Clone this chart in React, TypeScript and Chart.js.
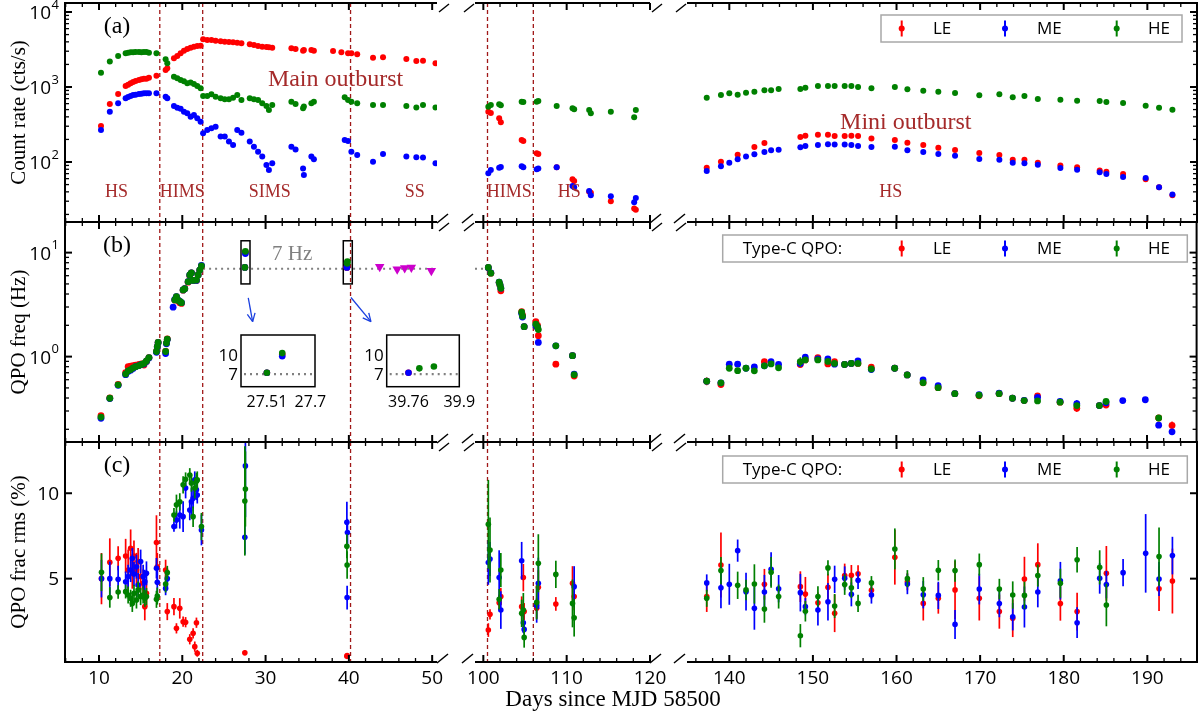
import React, { useEffect, useRef } from "react";
import { Chart, registerables } from "chart.js";

Chart.register(...registerables);

const FIG_W = 1200;
const FIG_H = 714;

const SERIF = '"Liberation Serif", "Times New Roman", serif';
const SANS = '"Open Sans", "Noto Sans", sans-serif';

const COLOR_LE = "#ff0000";
const COLOR_ME = "#0000ff";
const COLOR_HE = "#008000";
const STATE_RED = "#a52a2a";
const DASH_RED = "#a01818";
const LIMIT_MAGENTA = "#cc00cc";

// ---------------- Count rates, main outburst (cts/s) ----------------
const rateMainDays = [
  10.24, 11.3, 12.3, 13.2, 13.5, 13.8, 14.1, 14.4, 14.8, 15.1, 15.4, 15.7, 16.0, 16.9, 18.0, 18.2,
  19.0, 19.4, 19.8, 20.2, 20.6, 21.0, 21.4, 21.8, 22.2, 22.5, 23.0, 23.5, 24.0, 24.6, 25.1, 25.6,
  26.1, 26.6, 27.1, 28.1, 28.6, 29.1, 29.6, 30.1, 30.4, 30.8, 33.1, 33.6, 34.5, 34.6, 35.5, 35.8,
  38.1, 39.1, 39.5, 39.9, 40.3, 41.0, 42.9, 44.1, 46.9, 48.1, 48.9, 50.4,
  100.6, 100.9, 101.9, 102.1, 104.6, 104.8, 106.4, 106.6, 108.8, 110.7, 110.9, 112.7, 112.9, 115.3, 118.1, 118.3,
];
const rateMainLE = [
  302, 593, 807, 1031, 1074, 1119, 1166, 1202, 1240, 1265, 1291, 1291, 1332, 1416, 1686, 1774,
  2410, 2590, 2812, 3050, 3213, 3342, 3450, 3524, 3556, 4322, 4235, 4235, 4150, 4064, 4020, 3981,
  3945, 3900, 3820, 3706, 3630, 3524, 3450, 3415, 3380, 3342, 3280, 3213, 3050, 3113, 3113, 3050,
  3020, 2897, null, 2812, 2812, 2728, 2462, 2488, 2362, 2222, 2233, 2068,
  469, 450, 382, 338, 196, 190, 131, 128, 85, 59, 56, 40, 39, 30, 24, 23,
];
const rateMainME = [
  267, 469, 606, 706, 736, 759, 782, 791, 807, 815, 824, 824, 824, 824, 743, 706,
  558, 530, 514, 469, 446, 402, 424, 382, 345, 241, 267, 281, 296, 218, 218, 187,
  169, 267, 246, 187, 160, 137, 118, 91, 78, 96, 160, 147, 82, 67, 118, 109,
  null, null, 196, 191, 137, 124, 101, 128, 118, 116, 115, 96,
  71, 78, 84, 86, 88, 85, 80, 82, 85, 48, 46, 41, 36, 35, 29, 33,
];
const rateMainHE = [
  1553, 2180, 2590, 2812, 2870, 2897, 2897, 2930, 2930, 2897, 2930, 2930, 2870, 2812, 2338, 2068,
  1373, 1305, 1240, 1190, 1119, 1150, 1096, 1031, 960, 759, 759, 799, 743, 706, 685, 685,
  721, 782, 671, 706, 685, 671, 606, 558, 494, 575, 637, 593, 520, 548, 606, 637,
  null, null, 728, 671, 637, 606, 575, 575, 558, 535, 575, 535,
  546, 575, 588, 570, 637, 630, 637, 650, 558, 520, 505, 494, 446, 469, 394, 494,
];

// ---------------- Mini outburst observations (shared epochs) ----------------
const miniDays = [
  137.3, 139.0, 140.0, 141.0, 142.0, 143.0, 144.2, 145.0, 145.9, 148.5, 149.1, 150.6,
  151.8, 152.6, 153.8, 154.6, 155.4, 157.0, 159.8, 161.3, 163.2, 165.0, 167.0, 169.9,
  172.3, 173.9, 175.3, 176.9, 179.6, 181.6, 184.3, 185.1, 187.1, 189.8, 191.4, 193.0,
];
const rateMiniLE = [
  84, 101, null, 125, null, 158, 179, null, null, 215, 224, 231,
  231, 222, 222, 224, 222, 205, 197, 181, 169, 155, 145, 132,
  124, 107, 107, 98, 90, 85, 77, 74, 69, 59, 46, 36,
];
const rateMiniME = [
  76, 88, 98, 109, 118, 127, 136, 143, 146, 157, 163, 169,
  172, 171, 171, 169, 163, 158, 160, 143, 136, 128, 121, 110,
  107, 98, 96, 92, 83, 79, 73, 69, 63, 61, 46, 37,
];
const rateMiniHE = [
  720, 782, 824, 790, 839, 866, 904, 904, 940, 940, 980, 1031,
  1031, 1031, 1031, 1031, 1000, 960, 1000, 931, 893, 866, 832, 775,
  798, 728, 759, 692, 678, 658, 651, 631, 612, 564, 530, 499,
];

// ---------------- Type-C QPO frequency, main outburst (Hz) ----------------
const freqMainDays = [
  10.24, 11.3, 12.3, 13.2, 13.5, 13.8, 14.1, 14.4, 14.8, 15.1, 15.4, 15.7, 16.0, 16.9, 17.0, 17.1,
  18.0, 18.1, 18.2, 18.9, 19.1, 19.3, 19.5, 19.7, 19.9, 20.1, 20.3, 20.7, 20.9, 21.1, 21.3, 21.7,
  21.9, 22.1, 22.3, 27.51, 27.577, 39.76, 39.79, 39.83,
  100.6, 100.9, 101.9, 102.0, 102.1, 104.6, 104.7, 104.9, 106.3, 106.5, 106.6, 108.7, 110.7, 110.9,
];
const freqMainLE = [
  0.27, 0.40, 0.54, 0.70, 0.80, 0.81, 0.82, 0.83, 0.84, 0.85, 0.83, 0.90, 0.98, 1.12, 1.25, 1.37,
  1.12, 1.35, 1.48, null, 3.5, 3.75, 3.45, 3.3, 3.25, 4.35, 4.5, 5.2, 6.0, 6.4, 5.4, 5.4,
  6.1, 6.8, 7.4, 7.2, 10.1, 7.2, null, null,
  7.17, 6.34, 5.15, 4.85, 4.3, 2.7, 2.5, 1.94, 2.17, 2.0, 1.59, 0.846, 1.02, 0.65,
];
const freqMainME = [
  0.255, 0.395, 0.53, 0.67, 0.72, 0.74, 0.77, 0.80, 0.82, 0.84, 0.85, 0.90, 0.97, 1.10, 1.24, 1.36,
  1.07, 1.33, 1.46, 2.99, 3.55, 3.78, 3.5, 3.4, 3.3, 4.38, 4.5, 5.26, 6.1, 6.4, 5.4, 5.4,
  6.1, 6.8, 7.55, 7.2, 9.8, 7.2, null, null,
  7.17, 6.4, 5.19, 4.9, 4.55, 2.6, 2.4, 1.94, 1.98, 1.9, 1.37, 1.27, 1.02, 0.68,
];
const freqMainHE = [
  0.262, 0.398, 0.535, 0.68, 0.73, 0.75, 0.78, 0.80, 0.82, 0.84, 0.86, 0.91, 0.98, 1.12, 1.25, 1.37,
  1.12, 1.35, 1.47, null, 3.51, 3.78, 3.48, 3.4, 3.3, 4.38, 4.5, 5.26, 6.1, 6.4, 5.4, 5.45,
  6.1, 6.8, 7.45, 7.2, 10.3, null, 7.9, 8.2,
  7.2, 6.34, 5.2, 4.9, 4.55, 2.67, 2.45, 1.94, 2.05, 1.93, 1.82, 1.27, 1.02, 0.67,
];

// Candidate ~7 Hz features in the soft state (downward triangles)
const limitDays = [43.7, 45.8, 46.7, 47.5, 49.9];
const limitFreq = [7.33, 6.92, 7.1, 7.2, 6.7];

// ---------------- Type-C QPO frequency, mini outburst (Hz) ----------------
const freqMiniLE = [
  0.58, 0.54, null, null, null, null, 0.895, null, null, 0.84, 0.93, 0.98,
  0.85, 0.895, 0.84, 0.86, 0.86, 0.79, 0.773, 0.667, 0.56, 0.503, 0.44, 0.42,
  0.44, 0.398, 0.378, 0.42, 0.365, 0.319, 0.338, 0.342, null, null, 0.257, 0.218,
];
const freqMiniME = [
  0.58, 0.56, 0.845, 0.845, 0.773, 0.795, 0.815, 0.895, 0.84, 0.86, 0.987, 0.95,
  0.95, 0.845, 0.84, 0.86, 0.91, 0.75, 0.773, 0.667, 0.597, 0.526, 0.44, 0.43,
  0.445, 0.398, 0.38, 0.405, 0.37, 0.353, 0.338, 0.36, 0.378, 0.385, 0.219, 0.189,
];
const freqMiniHE = [
  0.58, 0.56, 0.773, 0.733, 0.773, 0.73, 0.815, 0.85, 0.78, 0.895, 0.93, 0.93,
  0.9, 0.86, 0.84, 0.86, 0.86, 0.76, 0.773, 0.667, 0.562, 0.503, 0.44, 0.425,
  0.44, 0.398, 0.378, 0.375, 0.365, 0.338, 0.338, 0.37, null, null, 0.257, null,
];
const freqMiniErrLE = [
  0.05, 0.04, 0, 0, 0, 0, 0.02, 0, 0, 0.03, 0.02, 0.02,
  0.02, 0.02, 0.02, 0.02, 0.02, 0.02, 0.02, 0.02, 0.02, 0.015, 0.01, 0.01,
  0.01, 0.01, 0.01, 0.015, 0.01, 0.025, 0.01, 0.015, 0, 0, 0.01, 0.02,
];
const freqMiniErrME = [
  0.03, 0.03, 0.02, 0.02, 0.02, 0.03, 0.02, 0.02, 0.02, 0.03, 0.02, 0.02,
  0.02, 0.02, 0.02, 0.02, 0.02, 0.02, 0.02, 0.02, 0.02, 0.015, 0.01, 0.01,
  0.01, 0.01, 0.01, 0.01, 0.01, 0.03, 0.01, 0.01, 0.01, 0.015, 0.01, 0.01,
];
const freqMiniErrHE = [
  0.03, 0.03, 0.02, 0.02, 0.02, 0.02, 0.02, 0.02, 0.02, 0.09, 0.03, 0.02,
  0.02, 0.02, 0.02, 0.02, 0.02, 0.02, 0.02, 0.02, 0.02, 0.015, 0.01, 0.01,
  0.01, 0.01, 0.01, 0.01, 0.01, 0.02, 0.01, 0.02, 0, 0, 0.01, 0,
];

// ---------------- QPO fractional rms, main outburst (%) ----------------
const rmsMainDays = [
  10.3, 11.3, 12.3, 13.2, 13.5, 13.8, 14.0, 14.2, 14.5, 14.7, 15.0, 15.3, 15.5, 15.7, 16.9, 17.0,
  18.0, 18.2, 19.0, 19.3, 19.7, 20.1, 20.4, 20.9, 21.1, 21.3, 21.5, 21.7, 21.8, 22.3,
  27.51, 27.577, 39.76, 39.79, 39.83,
  100.6, 100.8, 101.9, 102.1, 104.6, 104.8, 104.9, 106.4, 106.6, 108.7, 110.7, 110.9,
];
const rmsMainLE = [
  5.0, 5.96, 6.19, 6.33, 5.5, 6.78, 5.31, 6.33, 5.51, 6.0, 5.12, 4.73, 3.36, 4.14, 7.11, 5.7,
  5.51, 3.07, 3.36, 2.09, 3.26, 2.48, 2.45, 1.45, null, 1.8, 1.02, 2.42, 0.63, null,
  0.66, null, 0.45, 0.5, null,
  1.99, 2.91, 3.59, 3.95, 3.36, 5.06, 3.07, 3.26, 4.49, 3.52, 4.73, 3.95,
];
const rmsMainErrLE = [
  1.5, 1.4, 0.7, 1.0, 1.2, 1.1, 0.9, 0.9, 1.0, 0.8, 0.8, 0.8, 0.8, 0.8, 1.6, 0.8,
  0.6, 0.5, 0.5, 0.3, 0.6, 0.3, 0.3, 0.3, 0, 0.3, 0.3, 0.3, 0.2, 0,
  0.15, 0, 0.1, 0.1, 0,
  0.4, 0.3, 0.4, 0.5, 0.6, 0.8, 0.5, 0.6, 1.0, 0.4, 1.0, 0.8,
];
const rmsMainME = [
  5.0, 5.0, 4.96, 4.82, 5.12, 5.5, 6.19, 5.27, 5.7, 4.63, 6.0, 5.12, 4.82, 5.31, 5.61, 4.79,
  4.43, 5.0, 8.05, 8.44, 8.73, 8.63, 10.3, 9.02, 9.5, 9.7, 10.78, 10.2, 9.9, 7.85,
  7.42, 11.6, 8.3, 3.89, 7.7,
  5.94, 6.15, 5.06, 3.16, 6.05, 2.42, 2.03, 3.42, 4.73, null, null, 4.53,
];
const rmsMainErrME = [
  1.1, 1.0, 0.8, 0.6, 0.7, 0.7, 0.6, 0.7, 0.7, 0.7, 0.7, 0.7, 0.7, 0.7, 0.6, 0.7,
  0.4, 0.5, 0.3, 0.5, 0.8, 0.9, 0.6, 0.6, 0.8, 0.6, 0.5, 0.6, 0.5, 0.9,
  1.0, 3.0, 1.2, 0.7, 0.8,
  1.3, 1.0, 1.6, 1.1, 1.1, 0.6, 0.4, 1.0, 1.5, 0, 0, 1.2,
];
const rmsMainHE = [
  5.37, 3.9, 4.22, 4.24, 4.04, 3.85, 3.55, 4.14, 3.75, 4.34, 3.95, 4.04, 3.85, 3.95, 3.79, 3.98,
  4.69, 5.35, 8.73, 9.32, 9.5, 10.49, 10.82, 11.07, 10.59, 8.63, 10.3, 10.7, 10.78, 8.05,
  9.55, 10.25, 6.9, 5.8, null,
  8.18, 6.68, 3.79, 5.5, 2.97, 3.16, 1.56, 3.61, 5.9, 5.25, 3.55, 2.71,
];
const rmsMainErrHE = [
  1.1, 0.6, 0.4, 0.4, 0.5, 0.5, 0.5, 0.5, 0.5, 0.5, 0.5, 0.5, 0.5, 0.5, 0.5, 0.5,
  0.5, 0.4, 0.4, 0.6, 0.5, 0.5, 0.4, 0.4, 0.5, 0.6, 0.6, 0.5, 0.5, 0.8,
  3.2, 2.2, 0.7, 0.8, 0,
  2.6, 1.9, 0.6, 1.0, 0.8, 1.0, 0.6, 1.0, 1.7, 0.8, 1.4, 1.1,
];

// ---------------- QPO fractional rms, mini outburst (%) ----------------
const rmsMiniLE = [
  3.95, 5.8, null, null, null, null, 4.67, null, null, 4.53, 4.1, 3.59,
  4.49, 2.97, 5.18, 5.2, 5.29, 4.32, 6.25, 4.82, 3.55, 3.85, 4.34, 3.85,
  3.07, 2.68, 4.98, 5.82, 3.54, 3.07, null, 5.31, null, null, 4.41, 4.86,
];
const rmsMiniErrLE = [
  0.9, 1.9, 0, 0, 0, 0, 0.9, 0, 0, 0.9, 1.0, 0.6,
  0.8, 1.1, 0.7, 0.6, 0.5, 0.5, 1.6, 0.5, 1.0, 0.9, 1.7, 1.3,
  1.0, 1.1, 1.3, 1.25, 1.0, 1.1, 0, 1.6, 0, 0, 1.3, 1.9,
];
const rmsMiniME = [
  4.75, 4.47, 4.67, 6.64, 4.24, 3.26, 4.22, 5.55, 4.41, 4.18, 3.36, 3.16,
  3.65, 4.96, 5.02, 4.08, 4.9, 4.04, null, 4.69, 4.06, 4.02, 2.32, 4.39,
  3.54, 2.77, 3.34, 4.22, 4.88, 2.42, 5.02, 4.65, 5.35, 6.48, 4.98, 6.35,
];
const rmsMiniErrME = [
  0.5, 1.2, 1.2, 0.65, 1.1, 1.25, 1.0, 1.0, 0.8, 1.1, 0.5, 0.9,
  1.1, 0.8, 0.7, 0.7, 0.5, 0.5, 0, 0.6, 0.8, 0.8, 0.85, 0.9,
  0.8, 0.8, 1.2, 0.9, 1.1, 0.9, 0.9, 0.8, 0.8, 2.3, 1.0, 1.1,
];
const rmsMiniHE = [
  3.85, 5.47, null, 4.61, 4.34, 4.69, 3.22, 5.37, 3.95, 1.66, 3.09, 3.95,
  5.63, 3.4, 4.65, 4.47, 3.55, 4.75, 6.74, 5.0, 4.39, 5.49, 5.47, 5.82,
  4.39, 4.04, 4.02, 5.18, 4.73, 6.11, 5.66, 3.46, null, null, 6.29, null,
];
const rmsMiniErrHE = [
  0.5, 0.8, 0, 0.8, 0.6, 1.15, 0.8, 0.9, 0.7, 0.68, 0.6, 0.6,
  0.45, 0.7, 0.6, 0.6, 0.5, 0.4, 1.2, 0.5, 0.7, 0.6, 0.65, 0.65,
  0.6, 0.8, 0.8, 0.65, 0.85, 0.75, 1.0, 1.25, 0, 0, 1.7, 0,
];

// ---------------- Annotations ----------------
const transitionDays = [17.3, 22.45, 40.2, 100.5, 106.0];
const stateNames = ["HS", "HIMS", "SIMS", "SS", "HIMS", "HS", "HS"];
const stateDays = [12.1, 20.0, 30.5, 47.9, 103.1, 110.3, 159.3];
const stateLabelRate = 40;
const outburstNames = ["Main outburst", "Mini outburst"];
const outburstDays = [38.4, 161.1];
const outburstRates = [1240, 334];
const sevenHz = 7;
const sevenHzSpans = [[22.5, 50.58], [99, 100.5]];
const zoomWindows = [[27.05, 28.13], [39.33, 40.41]];
const zoomWindowFreq = [5.0, 13.0];
const zoomArrows = [[27.92, 3.67, 28.45, 2.17], [40.25, 3.7, 42.65, 2.17]];

// ---------------- Layout ----------------
const COLS = [
  { min: 5.92, max: 50.58, left: 65, right: 437, breakLeft: false, breakRight: true },
  { min: 99, max: 120, left: 475, right: 650, breakLeft: true, breakRight: true },
  { min: 134.94, max: 195.94, left: 687, right: 1197, breakLeft: true, breakRight: false },
];
const ROWS = [
  { top: 3, bottom: 222, type: "logarithmic", min: 15.85, max: 13183, title: "Count rate (cts/s)", letter: "(a)" },
  { top: 222, bottom: 442, type: "logarithmic", min: 0.151, max: 19.7, title: "QPO freq (Hz)", letter: "(b)" },
  { top: 442, bottom: 662, type: "linear", min: 0.12, max: 13.0, title: "QPO frac rms (%)", letter: "(c)" },
];
const Y_TICKS = [
  [{ v: 100, base: "10", sup: "2" }, { v: 1000, base: "10", sup: "3" }, { v: 10000, base: "10", sup: "4" }],
  [{ v: 1, base: "10", sup: "0" }, { v: 10, base: "10", sup: "1" }],
  [{ v: 5, base: "5", sup: "" }, { v: 10, base: "10", sup: "" }],
];
const LEGEND_BOXES = [
  { left: 881, top: 15, width: 301, prefix: "" },
  { left: 722.7, top: 235, width: 464.6, prefix: "Type-C QPO:" },
  { left: 722.7, top: 456, width: 464.6, prefix: "Type-C QPO:" },
];
const LEGEND_MARKER_X = [901.7, 1005, 1116.7];
const LEGEND_TEXT_X = [933, 1037, 1148];
const INSETS = [
  { xmin: 27.397, xmax: 27.72, left: 241, right: 315, top: 335, bottom: 386.7, xLabels: [27.51, 27.7] },
  { xmin: 39.7, xmax: 39.9, left: 386.7, right: 459.3, top: 335, bottom: 386.7, xLabels: [39.76, 39.9] },
];
const INSET_Y = { min: 5, max: 13.16, labels: [10, 7] };

type Pt = { x: number; y: number; e: number };

function toPoints(days: number[], vals: (number | null)[], errs?: number[]): Pt[] {
  const out: Pt[] = [];
  for (let i = 0; i < days.length; i++) {
    const v = vals[i];
    if (v === null || v === undefined) continue;
    out.push({ x: days[i], y: v, e: errs ? errs[i] || 0 : 0 });
  }
  return out;
}

const SERIES_META = [
  { label: "LE", color: COLOR_LE },
  { label: "ME", color: COLOR_ME },
  { label: "HE", color: COLOR_HE },
];

function rowPoints(r: number): Pt[][] {
  if (r === 0) {
    return [
      [...toPoints(rateMainDays, rateMainLE), ...toPoints(miniDays, rateMiniLE)],
      [...toPoints(rateMainDays, rateMainME), ...toPoints(miniDays, rateMiniME)],
      [...toPoints(rateMainDays, rateMainHE), ...toPoints(miniDays, rateMiniHE)],
    ];
  }
  if (r === 1) {
    return [
      [...toPoints(freqMainDays, freqMainLE), ...toPoints(miniDays, freqMiniLE, freqMiniErrLE)],
      [...toPoints(freqMainDays, freqMainME), ...toPoints(miniDays, freqMiniME, freqMiniErrME)],
      [...toPoints(freqMainDays, freqMainHE), ...toPoints(miniDays, freqMiniHE, freqMiniErrHE)],
    ];
  }
  return [
    [...toPoints(rmsMainDays, rmsMainLE, rmsMainErrLE), ...toPoints(miniDays, rmsMiniLE, rmsMiniErrLE)],
    [...toPoints(rmsMainDays, rmsMainME, rmsMainErrME), ...toPoints(miniDays, rmsMiniME, rmsMiniErrME)],
    [...toPoints(rmsMainDays, rmsMainHE, rmsMainErrHE), ...toPoints(miniDays, rmsMiniHE, rmsMiniErrHE)],
  ];
}

function seriesDatasets(points: Pt[][], radius: number, errWidth: number) {
  return points.map((data, i) => ({
    label: SERIES_META[i].label,
    data,
    pointRadius: radius,
    pointHoverRadius: radius,
    pointBackgroundColor: SERIES_META[i].color,
    pointBorderColor: SERIES_META[i].color,
    pointBorderWidth: 0,
    errColor: SERIES_META[i].color,
    errWidth,
    order: 3 - i,
    clip: 0,
  }));
}

function line(ctx: CanvasRenderingContext2D, x1: number, y1: number, x2: number, y2: number) {
  ctx.beginPath();
  ctx.moveTo(x1, y1);
  ctx.lineTo(x2, y2);
  ctx.stroke();
}

function xTickValues(min: number, max: number) {
  const majors: number[] = [];
  const minors: number[] = [];
  for (let v = Math.ceil(min / 2) * 2; v <= max + 1e-9; v += 2) {
    if (v % 10 === 0) majors.push(v);
    else minors.push(v);
  }
  return { majors, minors };
}

function logMinorValues(min: number, max: number) {
  const out: number[] = [];
  for (let n = Math.floor(Math.log10(min)); n <= Math.ceil(Math.log10(max)); n++) {
    for (let k = 2; k <= 9; k++) {
      const v = k * Math.pow(10, n);
      if (v > min && v < max) out.push(v);
    }
  }
  return out;
}

// Error bars, drawn under each dataset's markers
const errorBarPlugin = {
  id: "errorBars",
  beforeDatasetDraw(chart: any, args: any) {
    const ds = chart.data.datasets[args.index];
    if (!ds.errColor) return;
    const { ctx, chartArea: a } = chart;
    const xs = chart.scales.x;
    const ys = chart.scales.y;
    ctx.save();
    ctx.beginPath();
    ctx.rect(a.left, a.top, a.right - a.left, a.bottom - a.top);
    ctx.clip();
    ctx.strokeStyle = ds.errColor;
    ctx.lineWidth = ds.errWidth;
    for (const p of ds.data as Pt[]) {
      if (!p.e) continue;
      const px = xs.getPixelForValue(p.x);
      const lo = Math.max(p.y - p.e, 1e-3);
      line(ctx, px, ys.getPixelForValue(p.y + p.e), px, ys.getPixelForValue(lo));
    }
    ctx.restore();
  },
};

function drawLegend(ctx: CanvasRenderingContext2D, r: number) {
  const box = LEGEND_BOXES[r];
  const h = 27;
  ctx.fillStyle = "#ffffff";
  ctx.fillRect(box.left, box.top, box.width, h);
  ctx.strokeStyle = "#a8a8a8";
  ctx.lineWidth = 1.5;
  ctx.strokeRect(box.left, box.top, box.width, h);
  const cy = box.top + h / 2;
  ctx.textBaseline = "middle";
  ctx.textAlign = "left";
  ctx.font = `17px ${SANS}`;
  ctx.fillStyle = "#000";
  if (box.prefix) ctx.fillText(box.prefix, 742.7, cy + 1);
  SERIES_META.forEach((s, i) => {
    const mx = LEGEND_MARKER_X[i];
    ctx.strokeStyle = s.color;
    ctx.lineWidth = 2;
    line(ctx, mx, cy - 8, mx, cy + 8);
    ctx.fillStyle = s.color;
    ctx.beginPath();
    ctx.arc(mx, cy, 3, 0, Math.PI * 2);
    ctx.fill();
    ctx.fillStyle = "#000";
    ctx.fillText(s.label, LEGEND_TEXT_X[i], cy + 1);
  });
}

function drawArrow(ctx: CanvasRenderingContext2D, x1: number, y1: number, x2: number, y2: number) {
  line(ctx, x1, y1, x2, y2);
  const ang = Math.atan2(y2 - y1, x2 - x1);
  const len = 9;
  const spread = 0.45;
  line(ctx, x2, y2, x2 - len * Math.cos(ang - spread), y2 - len * Math.sin(ang - spread));
  line(ctx, x2, y2, x2 - len * Math.cos(ang + spread), y2 - len * Math.sin(ang + spread));
}

function panelPlugin(r: number, c: number) {
  const col = COLS[c];
  const row = ROWS[r];
  return {
    id: `panel-${r}-${c}`,
    beforeDatasetsDraw(chart: any) {
      const { ctx, chartArea: a } = chart;
      const xs = chart.scales.x;
      const ys = chart.scales.y;
      ctx.save();
      ctx.beginPath();
      ctx.rect(a.left, a.top, a.right - a.left, a.bottom - a.top);
      ctx.clip();
      // spectral-state transitions
      ctx.strokeStyle = DASH_RED;
      ctx.lineWidth = 1.3;
      ctx.setLineDash([4, 3]);
      for (const d of transitionDays) {
        if (d <= col.min || d >= col.max) continue;
        const px = xs.getPixelForValue(d);
        line(ctx, px, a.top, px, a.bottom);
      }
      if (r === 1) {
        // 7 Hz reference level
        ctx.strokeStyle = "#808080";
        ctx.lineWidth = 2.2;
        ctx.setLineDash([2, 4]);
        const py = ys.getPixelForValue(sevenHz);
        for (const [d0, d1] of sevenHzSpans) {
          if (d1 <= col.min || d0 >= col.max) continue;
          line(ctx, xs.getPixelForValue(Math.max(d0, col.min)), py, xs.getPixelForValue(Math.min(d1, col.max)), py);
        }
        ctx.setLineDash([]);
        if (c === 0) {
          ctx.strokeStyle = "#000";
          ctx.lineWidth = 1.5;
          for (const [d0, d1] of zoomWindows) {
            const x0 = xs.getPixelForValue(d0);
            const x1 = xs.getPixelForValue(d1);
            const y0 = ys.getPixelForValue(zoomWindowFreq[1]);
            const y1 = ys.getPixelForValue(zoomWindowFreq[0]);
            ctx.strokeRect(x0, y0, x1 - x0, y1 - y0);
          }
          ctx.strokeStyle = "#1a3fe0";
          ctx.lineWidth = 1.3;
          for (const [d0, f0, d1, f1] of zoomArrows) {
            drawArrow(ctx, xs.getPixelForValue(d0), ys.getPixelForValue(f0), xs.getPixelForValue(d1), ys.getPixelForValue(f1));
          }
          ctx.fillStyle = "#808080";
          ctx.font = `21px ${SERIF}`;
          ctx.textAlign = "center";
          ctx.textBaseline = "middle";
          ctx.fillText("7 Hz", xs.getPixelForValue(33.2), ys.getPixelForValue(9.5));
        }
      }
      ctx.restore();
    },
    afterDatasetsDraw(chart: any) {
      const { ctx, chartArea: a } = chart;
      const xs = chart.scales.x;
      const ys = chart.scales.y;
      ctx.save();
      ctx.setLineDash([]);
      ctx.strokeStyle = "#000";
      ctx.fillStyle = "#000";
      // frame
      ctx.lineWidth = 2;
      line(ctx, a.left - (c === 0 ? 1 : 0), a.top, a.right + (c === 2 ? 1 : 0), a.top);
      line(ctx, a.left - (c === 0 ? 1 : 0), a.bottom, a.right + (c === 2 ? 1 : 0), a.bottom);
      if (c === 0) line(ctx, a.left, a.top, a.left, a.bottom);
      if (c === 2) line(ctx, a.right, a.top, a.right, a.bottom);
      // x ticks (inward, top and bottom)
      const { majors, minors } = xTickValues(col.min, col.max);
      ctx.lineWidth = 2;
      for (const v of majors) {
        const px = xs.getPixelForValue(v);
        line(ctx, px, a.top, px, a.top + 7);
        line(ctx, px, a.bottom, px, a.bottom - 7);
      }
      ctx.lineWidth = 1.3;
      for (const v of minors) {
        const px = xs.getPixelForValue(v);
        line(ctx, px, a.top, px, a.top + 4);
        line(ctx, px, a.bottom, px, a.bottom - 4);
      }
      // y ticks
      const yMaj = Y_TICKS[r].map((t) => t.v);
      const yMin = row.type === "logarithmic" ? logMinorValues(row.min, row.max) : [];
      if (c === 0 || c === 2) {
        const x0 = c === 0 ? a.left : a.right;
        const dir = c === 0 ? 1 : -1;
        ctx.lineWidth = 2;
        for (const v of yMaj) {
          const py = ys.getPixelForValue(v);
          line(ctx, x0, py, x0 + dir * 7, py);
        }
        ctx.lineWidth = 1.3;
        for (const v of yMin) {
          const py = ys.getPixelForValue(v);
          line(ctx, x0, py, x0 + dir * 4, py);
        }
      }
      // axis break marks
      ctx.lineWidth = 1.5;
      if (col.breakRight) {
        const R = a.right;
        line(ctx, R + 2, a.top + 9, R + 12, a.top + 1);
        line(ctx, R, a.bottom + 1, R + 11, a.bottom - 8);
      }
      if (col.breakLeft) {
        const L = a.left;
        line(ctx, L - 11, a.top + 9, L - 1, a.top + 1);
        line(ctx, L - 13, a.bottom + 1, L - 2, a.bottom - 8);
      }
      // x tick labels on the bottom row
      if (r === 2) {
        ctx.font = `19px ${SANS}`;
        ctx.textAlign = "center";
        ctx.textBaseline = "middle";
        for (const v of majors) ctx.fillText(String(v), xs.getPixelForValue(v), a.bottom + 17);
        if (c === 1) {
          ctx.font = `23px ${SERIF}`;
          ctx.fillText("Days since MJD 58500", 613, 700);
        }
      }
      if (c === 0) {
        // y tick labels
        ctx.textBaseline = "middle";
        ctx.textAlign = "right";
        for (const t of Y_TICKS[r]) {
          const py = ys.getPixelForValue(t.v);
          const xr = a.left - 6;
          if (t.sup) {
            ctx.font = `13px ${SANS}`;
            const sw = ctx.measureText(t.sup).width;
            ctx.fillText(t.sup, xr, py - 7);
            ctx.font = `19px ${SANS}`;
            ctx.fillText(t.base, xr - sw - 0.5, py + 2);
          } else {
            ctx.font = `19px ${SANS}`;
            ctx.fillText(t.base, xr, py + 1);
          }
        }
        // y title
        ctx.save();
        ctx.translate(19, (a.top + a.bottom) / 2);
        ctx.rotate(-Math.PI / 2);
        ctx.textAlign = "center";
        ctx.font = `21px ${SERIF}`;
        ctx.fillText(row.title, 0, 0);
        ctx.restore();
        // panel letter
        ctx.font = `24px ${SERIF}`;
        ctx.textAlign = "center";
        ctx.fillText(row.letter, 117, a.top + 24);
      }
      if (r === 0) {
        ctx.fillStyle = STATE_RED;
        ctx.textAlign = "center";
        ctx.textBaseline = "middle";
        ctx.font = `18px ${SERIF}`;
        stateNames.forEach((name, i) => {
          const d = stateDays[i];
          if (d < col.min || d > col.max) return;
          ctx.fillText(name, xs.getPixelForValue(d), ys.getPixelForValue(stateLabelRate));
        });
        ctx.font = `24px ${SERIF}`;
        outburstNames.forEach((name, i) => {
          const d = outburstDays[i];
          if (d < col.min || d > col.max) return;
          ctx.fillText(name, xs.getPixelForValue(d), ys.getPixelForValue(outburstRates[i]));
        });
      }
      if (c === 2) drawLegend(ctx, r);
      ctx.restore();
    },
  };
}

function insetPlugin(k: number) {
  const inset = INSETS[k];
  return {
    id: `inset-${k}`,
    beforeDatasetsDraw(chart: any) {
      const { ctx, chartArea: a } = chart;
      const ys = chart.scales.y;
      ctx.save();
      ctx.fillStyle = "#ffffff";
      ctx.fillRect(a.left, a.top, a.right - a.left, a.bottom - a.top);
      const py = ys.getPixelForValue(sevenHz);
      ctx.strokeStyle = "#808080";
      ctx.lineWidth = 2.2;
      ctx.setLineDash([2, 4]);
      line(ctx, a.left + 3, py, a.right, py);
      ctx.restore();
    },
    afterDatasetsDraw(chart: any) {
      const { ctx, chartArea: a } = chart;
      const xs = chart.scales.x;
      const ys = chart.scales.y;
      ctx.save();
      ctx.strokeStyle = "#000";
      ctx.lineWidth = 1.5;
      ctx.strokeRect(a.left, a.top, a.right - a.left, a.bottom - a.top);
      ctx.fillStyle = "#000";
      ctx.textBaseline = "middle";
      ctx.textAlign = "right";
      ctx.font = `17px ${SANS}`;
      for (const v of INSET_Y.labels) ctx.fillText(String(v), a.left - 3, ys.getPixelForValue(v) + 1);
      ctx.textAlign = "center";
      ctx.font = `16px ${SANS}`;
      for (const v of inset.xLabels) ctx.fillText(String(v), xs.getPixelForValue(v), a.bottom + 16);
      ctx.restore();
    },
  };
}

function baseOptions(padding: any, x: any, y: any) {
  return {
    responsive: false,
    maintainAspectRatio: false,
    animation: false,
    devicePixelRatio: 1,
    events: [],
    layout: { padding },
    scales: { x: { ...x, display: false }, y: { ...y, display: false } },
    plugins: { legend: { display: false }, tooltip: { enabled: false } },
  };
}

function panelConfig(r: number, c: number) {
  const col = COLS[c];
  const row = ROWS[r];
  const radius = r === 0 ? 3 : r === 1 ? 3.4 : 2.8;
  const datasets: any[] = seriesDatasets(rowPoints(r), radius, r === 2 ? 1.7 : 1.4);
  if (r === 1 && c === 0) {
    datasets.push({
      label: "7 Hz candidates",
      data: toPoints(limitDays, limitFreq),
      pointStyle: "triangle",
      pointRotation: 180,
      pointRadius: 5.5,
      pointHoverRadius: 5.5,
      pointBackgroundColor: LIMIT_MAGENTA,
      pointBorderColor: LIMIT_MAGENTA,
      pointBorderWidth: 0,
      order: 0,
      clip: 0,
    });
  }
  return {
    type: "scatter",
    data: { datasets },
    options: baseOptions(
      { left: col.left, right: FIG_W - col.right, top: row.top, bottom: FIG_H - row.bottom },
      { type: "linear", min: col.min, max: col.max },
      { type: row.type, min: row.min, max: row.max }
    ),
    plugins: [errorBarPlugin, panelPlugin(r, c)],
  };
}

function insetConfig(k: number) {
  const inset = INSETS[k];
  return {
    type: "scatter",
    data: { datasets: seriesDatasets(rowPoints(1), 3.3, 1.4) },
    options: baseOptions(
      { left: inset.left, right: FIG_W - inset.right, top: inset.top, bottom: FIG_H - inset.bottom },
      { type: "linear", min: inset.xmin, max: inset.xmax },
      { type: "linear", min: INSET_Y.min, max: INSET_Y.max }
    ),
    plugins: [insetPlugin(k)],
  };
}

const CONFIG_BUILDERS: (() => any)[] = [];
for (let r = 0; r < 3; r++) for (let c = 0; c < 3; c++) CONFIG_BUILDERS.push(() => panelConfig(r, c));
CONFIG_BUILDERS.push(() => insetConfig(0));
CONFIG_BUILDERS.push(() => insetConfig(1));

export default function App() {
  const canvasRefs = useRef<(HTMLCanvasElement | null)[]>([]);

  useEffect(() => {
    const charts: Chart[] = [];
    CONFIG_BUILDERS.forEach((build, i) => {
      const el = canvasRefs.current[i];
      if (el) charts.push(new Chart(el, build()));
    });
    return () => charts.forEach((ch) => ch.destroy());
  }, []);

  return (
    <div style={{ position: "absolute", left: 0, top: 0, width: FIG_W, height: FIG_H, background: "#ffffff" }}>
      {CONFIG_BUILDERS.map((_, i) => (
        <canvas
          key={i}
          ref={(el) => {
            canvasRefs.current[i] = el;
          }}
          width={FIG_W}
          height={FIG_H}
          style={{ position: "absolute", left: 0, top: 0, width: FIG_W, height: FIG_H }}
        />
      ))}
    </div>
  );
}
